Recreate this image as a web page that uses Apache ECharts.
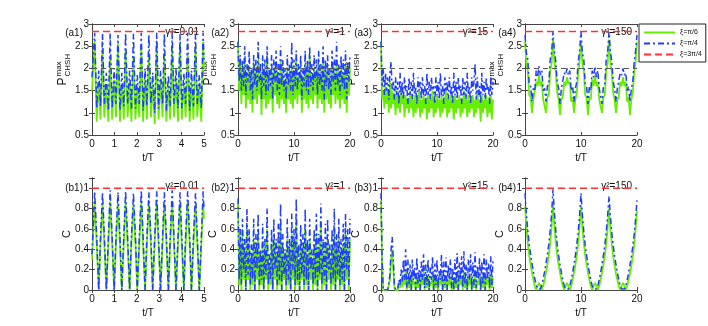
<!DOCTYPE html>
<html>
<head>
<meta charset="utf-8">
<script src="https://cdn.jsdelivr.net/npm/echarts@6/dist/echarts.min.js"></script>
</head>
<body style="margin:0;background:#fff">
<div id="container" style="width:708px;height:326px"></div>
<script>
// legend / labels
var legendNames = ['ξ=π/6', 'ξ=π/4', 'ξ=3π/4'];
var panelTags = ['(a1)', '(a2)', '(a3)', '(a4)', '(b1)', '(b2)', '(b3)', '(b4)'];
var gammaLabels = ['γ²=0.01', 'γ²=1', 'γ²=15', 'γ²=150'];
var tEnd = [5, 20, 20, 20];
var pBound = [2.83, 2.83];   // xi = 3pi/4 (maximal)
var cBound = [1, 1];
var classical = 2;

// (a1),(b1): sampled at the turning points
var t1 = [0,
  0.12, 0.21, 0.30, 0.38, 0.47, 0.55, 0.64, 0.73, 0.81, 0.90, 0.99, 1.07,
  1.16, 1.25, 1.33, 1.42, 1.50, 1.59, 1.68, 1.76, 1.85, 1.94, 2.02, 2.11,
  2.20, 2.28, 2.37, 2.45, 2.54, 2.63, 2.71, 2.80, 2.89, 2.97, 3.06, 3.15,
  3.23, 3.32, 3.41, 3.49, 3.58, 3.66, 3.75, 3.84, 3.93, 4.01, 4.10, 4.18,
  4.27, 4.36, 4.44, 4.53, 4.62, 4.70, 4.79, 4.88, 4.96, 5.00];
var a1Green = [1.5,
  2.6, 0.8, 1.7, 0.85, 2.45, 0.9, 1.6, 0.8, 2.3, 0.85, 1.75, 0.9,
  2.55, 0.8, 1.65, 0.85, 2.4, 0.9, 1.7, 0.8, 2.25, 0.85, 1.6, 0.9,
  2.5, 0.8, 1.75, 0.85, 2.35, 0.9, 1.65, 0.75, 2.6, 0.85, 1.7, 0.9,
  2.3, 0.8, 1.6, 0.85, 2.45, 0.9, 1.75, 0.8, 2.55, 0.85, 1.65, 0.9,
  2.3, 0.8, 1.7, 0.85, 2.5, 0.9, 1.6, 0.8, 2.6, 2.0];
var a1Blue = [1.8,
  2.8, 1.1, 1.95, 1.15, 2.78, 1.2, 1.9, 1.05, 2.8, 1.1, 2.0, 1.2,
  2.75, 1.05, 1.9, 1.15, 2.8, 1.2, 1.95, 1.1, 2.78, 1.1, 1.85, 1.2,
  2.8, 1.05, 2.0, 1.15, 2.76, 1.2, 1.9, 1.0, 2.8, 1.1, 1.95, 1.2,
  2.78, 1.05, 1.85, 1.15, 2.8, 1.2, 2.0, 1.1, 2.77, 1.1, 1.9, 1.2,
  2.8, 1.05, 1.95, 1.15, 2.78, 1.2, 1.85, 1.1, 2.8, 2.2];
var b1Green = [0.3,
  0.86, 0.45, 0.0, 0.45, 0.85, 0.46, 0.0, 0.44, 0.87, 0.45, 0.0, 0.45,
  0.85, 0.44, 0.0, 0.46, 0.86, 0.45, 0.0, 0.45, 0.84, 0.46, 0.0, 0.44,
  0.87, 0.45, 0.0, 0.45, 0.85, 0.44, 0.0, 0.46, 0.86, 0.45, 0.0, 0.45,
  0.85, 0.46, 0.0, 0.44, 0.87, 0.45, 0.0, 0.45, 0.85, 0.44, 0.0, 0.46,
  0.86, 0.45, 0.0, 0.45, 0.84, 0.46, 0.0, 0.44, 0.86, 0.7];
var b1Blue = [0.35,
  0.97, 0.52, 0.0, 0.52, 0.96, 0.53, 0.0, 0.51, 0.98, 0.52, 0.0, 0.52,
  0.96, 0.51, 0.0, 0.53, 0.97, 0.52, 0.0, 0.52, 0.95, 0.53, 0.0, 0.51,
  0.98, 0.52, 0.0, 0.52, 0.96, 0.51, 0.0, 0.53, 0.97, 0.52, 0.0, 0.52,
  0.96, 0.53, 0.0, 0.51, 0.98, 0.52, 0.0, 0.52, 0.96, 0.51, 0.0, 0.53,
  0.97, 0.52, 0.0, 0.52, 0.95, 0.53, 0.0, 0.51, 0.97, 0.8];

// (a2)-(a4),(b2)-(b4): evenly sampled over 0..20
var a2Green = [2.6, 1.5, 2.1, 1.2, 1.9, 1.4, 2.2, 1.1, 1.8, 1.3, 2.0, 1.2, 1.7, 1.0, 2.1, 1.3, 1.9, 1.2, 2.2, 1.4,
  1.8, 0.95, 2.0, 1.3, 1.9, 1.1, 2.3, 1.2, 1.7, 1.3, 2.0, 1.0, 1.9, 1.4, 2.1, 1.2, 1.8, 1.1, 2.2, 1.3,
  1.9, 1.2, 1.7, 1.0, 2.0, 1.3, 1.8, 1.2, 2.1, 1.1, 1.9, 1.3, 2.2, 1.2, 1.8, 1.4, 2.0, 1.0, 1.7, 1.3,
  2.1, 1.2, 1.9, 1.1, 2.3, 1.3, 1.8, 1.2, 2.0, 1.4, 1.9, 1.1, 2.1, 1.3, 1.8, 1.2, 2.2, 1.0, 1.9, 1.3,
  2.0, 1.2, 1.7, 1.1, 2.1, 1.4, 1.9, 1.2, 2.2, 1.3, 1.8, 1.1, 2.0, 1.3, 1.9, 1.2, 2.1, 1.0, 1.8, 1.4, 2.0];
var a2Blue = [2.6, 1.7, 2.3, 1.5, 2.2, 1.6, 2.5, 1.4, 2.1, 1.7, 2.4, 1.5, 2.0, 1.3, 2.3, 1.6, 2.2, 1.5, 2.6, 1.7,
  2.1, 1.3, 2.3, 1.6, 2.2, 1.4, 2.5, 1.5, 2.0, 1.6, 2.3, 1.3, 2.2, 1.7, 2.4, 1.5, 2.1, 1.4, 2.5, 1.6,
  2.2, 1.5, 2.0, 1.3, 2.3, 1.6, 2.1, 1.5, 2.6, 1.4, 2.2, 1.6, 2.4, 1.5, 2.1, 1.7, 2.3, 1.3, 2.0, 1.6,
  2.4, 1.5, 2.2, 1.4, 2.5, 1.6, 2.1, 1.5, 2.3, 1.7, 2.2, 1.4, 2.4, 1.6, 2.1, 1.5, 2.5, 1.3, 2.2, 1.6,
  2.3, 1.5, 2.0, 1.4, 2.4, 1.7, 2.2, 1.5, 2.6, 1.6, 2.1, 1.4, 2.3, 1.6, 2.2, 1.5, 2.4, 1.3, 2.1, 1.7, 2.3];
var a3Green = [2.6, 1.3, 1.5, 1.1, 1.6, 1.2, 1.5, 1.0, 1.7, 1.1, 1.5, 1.2, 1.4, 0.95, 1.5, 1.1, 1.4, 1.0, 1.5, 1.2,
  1.4, 0.9, 1.4, 1.1, 1.3, 1.0, 1.5, 1.1, 1.3, 0.9, 1.4, 1.0, 1.3, 1.1, 1.5, 0.9, 1.3, 1.0, 1.4, 1.1,
  1.3, 0.85, 1.4, 1.0, 1.3, 1.1, 1.5, 0.9, 1.3, 1.0, 1.4, 1.1, 1.3, 0.9, 1.4, 1.0, 1.3, 1.1, 1.5, 0.9,
  1.3, 1.0, 1.4, 1.1, 1.3, 0.85, 1.4, 1.0, 1.3, 1.1, 1.4, 0.9, 1.3, 1.0, 1.5, 1.1, 1.3, 0.9, 1.4, 1.0,
  1.3, 1.1, 1.4, 0.9, 1.3, 1.0, 1.5, 1.1, 1.3, 0.8, 1.4, 1.0, 1.3, 1.1, 1.4, 0.9, 1.3, 1.0, 1.4, 0.85, 1.3];
var a3Blue = [2.6, 1.6, 2.0, 1.4, 1.9, 1.5, 1.8, 1.3, 1.9, 2.15, 1.5, 1.7, 1.3, 1.8, 1.4, 1.7, 1.2, 1.9, 1.4, 1.7,
  1.3, 1.8, 1.5, 1.6, 1.2, 1.8, 1.4, 1.7, 1.3, 1.9, 1.4, 1.6, 1.2, 1.8, 1.5, 1.7, 1.3, 1.8, 1.4, 1.6,
  1.2, 1.9, 1.4, 1.7, 1.3, 1.8, 1.5, 1.6, 1.2, 1.8, 1.4, 1.7, 1.3, 1.9, 1.4, 1.6, 1.2, 1.8, 1.5, 1.7,
  1.3, 1.8, 1.4, 1.6, 1.2, 1.9, 1.4, 1.7, 1.3, 1.8, 1.5, 1.6, 1.2, 1.8, 1.4, 1.7, 1.3, 1.9, 1.4, 1.6,
  1.2, 1.8, 1.5, 1.7, 2.1, 1.3, 1.8, 1.4, 1.6, 1.2, 1.9, 1.4, 1.7, 1.3, 1.8, 1.5, 1.6, 1.2, 1.8, 1.4, 1.7];
var a4Green = [2.6, 2.1, 1.95, 1.4, 1.35, 1.0, 1.3, 1.3, 1.7, 1.6, 1.85, 1.6, 1.7, 1.3, 1.3, 1.0, 1.35, 1.4, 1.95, 2.1,
  2.65, 2.15, 1.9, 1.45, 1.3, 0.95, 1.3, 1.35, 1.7, 1.6, 1.8, 1.65, 1.7, 1.25, 1.35, 1.0, 1.3, 1.45, 1.9, 2.15,
  2.6, 2.1, 1.95, 1.4, 1.35, 0.95, 1.35, 1.3, 1.75, 1.6, 1.85, 1.6, 1.7, 1.3, 1.3, 1.0, 1.35, 1.4, 1.95, 2.1,
  2.65, 2.15, 1.9, 1.45, 1.3, 1.0, 1.3, 1.35, 1.7, 1.6, 1.8, 1.6, 1.7, 1.25, 1.35, 0.95, 1.3, 1.45, 1.9, 2.15,
  2.6];
var a4Blue = [2.75, 2.35, 2.2, 1.65, 1.6, 1.25, 1.55, 1.5, 1.95, 1.8, 2.05, 1.85, 1.95, 1.5, 1.55, 1.25, 1.6, 1.65, 2.2, 2.35,
  2.82, 2.4, 2.15, 1.7, 1.55, 1.2, 1.55, 1.55, 1.9, 1.85, 2.0, 1.85, 1.95, 1.5, 1.6, 1.25, 1.55, 1.7, 2.15, 2.4,
  2.82, 2.35, 2.2, 1.65, 1.6, 1.2, 1.6, 1.5, 1.95, 1.8, 2.05, 1.8, 1.95, 1.55, 1.55, 1.2, 1.6, 1.65, 2.2, 2.35,
  2.82, 2.4, 2.15, 1.7, 1.55, 1.25, 1.55, 1.55, 1.9, 1.85, 2.0, 1.85, 1.9, 1.5, 1.6, 1.25, 1.55, 1.7, 2.15, 2.4,
  2.75];
var b2Green = [0.85, 0.05, 0.45, 0.0, 0.55, 0.1, 0.35, 0.0, 0.6, 0.1, 0.4, 0.0, 0.3, 0.05, 0.5, 0.0, 0.4, 0.1, 0.55, 0.0,
  0.3, 0.05, 0.45, 0.0, 0.35, 0.1, 0.6, 0.0, 0.25, 0.05, 0.45, 0.0, 0.5, 0.1, 0.35, 0.0, 0.45, 0.05, 0.65, 0.0,
  0.4, 0.1, 0.3, 0.0, 0.5, 0.05, 0.35, 0.0, 0.55, 0.1, 0.45, 0.0, 0.7, 0.05, 0.3, 0.0, 0.45, 0.1, 0.4, 0.0,
  0.6, 0.05, 0.35, 0.0, 0.5, 0.1, 0.3, 0.0, 0.45, 0.05, 0.55, 0.0, 0.4, 0.1, 0.65, 0.0, 0.35, 0.05, 0.45, 0.0,
  0.5, 0.1, 0.3, 0.0, 0.45, 0.05, 0.6, 0.0, 0.4, 0.1, 0.5, 0.0, 0.35, 0.05, 0.45, 0.0, 0.55, 0.1, 0.4, 0.0, 0.5];
var b2Blue = [0.9, 0.1, 0.6, 0.05, 0.7, 0.2, 0.5, 0.0, 0.8, 0.15, 0.6, 0.05, 0.45, 0.1, 0.7, 0.0, 0.55, 0.2, 0.75, 0.05,
  0.4, 0.1, 0.65, 0.0, 0.5, 0.15, 0.8, 0.05, 0.35, 0.1, 0.6, 0.0, 0.7, 0.2, 0.5, 0.05, 0.65, 0.1, 0.85, 0.0,
  0.55, 0.15, 0.4, 0.05, 0.7, 0.1, 0.5, 0.0, 0.75, 0.2, 0.6, 0.05, 0.9, 0.1, 0.45, 0.0, 0.65, 0.15, 0.55, 0.05,
  0.8, 0.1, 0.5, 0.0, 0.7, 0.2, 0.4, 0.05, 0.6, 0.1, 0.75, 0.0, 0.55, 0.15, 0.85, 0.05, 0.5, 0.1, 0.65, 0.0,
  0.7, 0.2, 0.45, 0.05, 0.6, 0.1, 0.8, 0.0, 0.55, 0.15, 0.7, 0.05, 0.5, 0.1, 0.65, 0.0, 0.75, 0.2, 0.6, 0.05, 0.7];
var b3Green = [0.88, 0.25, 0.0, 0.0, 0.0, 0.0, 0.0, 0.0, 0.1, 0.3, 0.4, 0.2, 0.02, 0.0, 0.0, 0.0, 0.05, 0.02, 0.1, 0.03,
  0.15, 0.05, 0.2, 0.0, 0.12, 0.02, 0.1, 0.0, 0.15, 0.05, 0.08, 0.0, 0.14, 0.02, 0.1, 0.0, 0.12, 0.05, 0.18, 0.0,
  0.1, 0.02, 0.14, 0.0, 0.08, 0.05, 0.15, 0.0, 0.1, 0.02, 0.12, 0.0, 0.08, 0.05, 0.16, 0.0, 0.11, 0.02, 0.14, 0.0,
  0.1, 0.05, 0.13, 0.0, 0.09, 0.0, 0.12, 0.02, 0.17, 0.0, 0.1, 0.05, 0.14, 0.0, 0.18, 0.02, 0.1, 0.0, 0.13, 0.05,
  0.15, 0.0, 0.11, 0.02, 0.16, 0.0, 0.09, 0.05, 0.14, 0.0, 0.12, 0.02, 0.15, 0.0, 0.13, 0.05, 0.1, 0.0, 0.14, 0.02, 0.12];
var b3Blue = [0.95, 0.3, 0.0, 0.0, 0.0, 0.0, 0.0, 0.0, 0.15, 0.4, 0.52, 0.3, 0.05, 0.0, 0.0, 0.02, 0.1, 0.05, 0.2, 0.08,
  0.3, 0.1, 0.4, 0.02, 0.3, 0.05, 0.25, 0.0, 0.3, 0.1, 0.22, 0.0, 0.32, 0.05, 0.2, 0.0, 0.28, 0.1, 0.35, 0.02,
  0.25, 0.05, 0.3, 0.0, 0.22, 0.1, 0.33, 0.0, 0.26, 0.05, 0.3, 0.02, 0.2, 0.1, 0.35, 0.0, 0.28, 0.05, 0.32, 0.0,
  0.25, 0.1, 0.3, 0.02, 0.22, 0.0, 0.3, 0.05, 0.36, 0.0, 0.27, 0.1, 0.33, 0.02, 0.38, 0.05, 0.25, 0.0, 0.3, 0.1,
  0.35, 0.0, 0.27, 0.05, 0.37, 0.02, 0.24, 0.1, 0.32, 0.0, 0.28, 0.05, 0.35, 0.0, 0.3, 0.1, 0.26, 0.02, 0.33, 0.05, 0.3];
var b4Green = [0.82, 0.62, 0.46, 0.34, 0.25, 0.17, 0.1, 0.04, 0.0, 0.04, 0.07, 0.04, 0.0, 0.04, 0.1, 0.17, 0.25, 0.34, 0.46, 0.62,
  0.84, 0.63, 0.46, 0.34, 0.25, 0.17, 0.1, 0.04, 0.0, 0.04, 0.07, 0.04, 0.0, 0.04, 0.1, 0.17, 0.25, 0.34, 0.46, 0.62,
  0.83, 0.62, 0.46, 0.34, 0.25, 0.17, 0.1, 0.04, 0.0, 0.04, 0.07, 0.04, 0.0, 0.04, 0.1, 0.17, 0.25, 0.34, 0.45, 0.61,
  0.8, 0.6, 0.45, 0.33, 0.24, 0.16, 0.1, 0.04, 0.0, 0.04, 0.07, 0.04, 0.0, 0.04, 0.1, 0.16, 0.24, 0.33, 0.44, 0.6,
  0.78];
var b4Blue = [0.95, 0.75, 0.58, 0.45, 0.35, 0.26, 0.18, 0.11, 0.05, 0.01, 0.0, 0.01, 0.05, 0.11, 0.18, 0.26, 0.35, 0.45, 0.58, 0.75,
  0.99, 0.76, 0.58, 0.45, 0.34, 0.25, 0.17, 0.1, 0.04, 0.01, 0.0, 0.01, 0.04, 0.1, 0.17, 0.25, 0.34, 0.45, 0.57, 0.74,
  0.95, 0.74, 0.57, 0.44, 0.34, 0.25, 0.17, 0.1, 0.04, 0.01, 0.0, 0.01, 0.04, 0.1, 0.17, 0.25, 0.34, 0.44, 0.56, 0.73,
  0.92, 0.72, 0.56, 0.44, 0.33, 0.25, 0.17, 0.1, 0.04, 0.01, 0.0, 0.01, 0.04, 0.1, 0.17, 0.25, 0.33, 0.43, 0.55, 0.7,
  0.88];

function withTimes(ts, vs) {
    return vs.map(function (v, i) { return [ts[i], v]; });
}
function evenTimes(vs, tMax) {
    return vs.map(function (v, i) { return [i * tMax / (vs.length - 1), v]; });
}

var greens = [withTimes(t1, a1Green), evenTimes(a2Green, 20), evenTimes(a3Green, 20), evenTimes(a4Green, 20),
              withTimes(t1, b1Green), evenTimes(b2Green, 20), evenTimes(b3Green, 20), evenTimes(b4Green, 20)];
var blues = [withTimes(t1, a1Blue), evenTimes(a2Blue, 20), evenTimes(a3Blue, 20), evenTimes(a4Blue, 20),
             withTimes(t1, b1Blue), evenTimes(b2Blue, 20), evenTimes(b3Blue, 20), evenTimes(b4Blue, 20)];

var FONT = '"Liberation Sans", Arial, sans-serif';
var GREEN = '#66ee00', BLUE = '#1f3dff', RED = '#ff3030', FRAME = '#444';
var colLeft = [92, 238, 381, 525];
var colWidth = 112;
var rowTop = [24, 178];
var rowHeight = [111, 112];

var dom = document.getElementById('container');
var myChart = echarts.init(dom);

var grids = [], xAxes = [], yAxes = [], series = [], graphics = [];
for (var g = 0; g < 8; g++) {
    var row = g < 4 ? 0 : 1, col = g % 4;
    var tMax = tEnd[col];
    var isP = row === 0;
    var gx = colLeft[col], gy = rowTop[row];
    grids.push({left: gx, top: gy, width: colWidth, height: rowHeight[row]});
    var tickStyle = {inside: true, length: 3, lineStyle: {color: FRAME}};
    var lineStyle = {show: true, lineStyle: {color: FRAME, width: 1}};
    xAxes.push({
        type: 'value', gridIndex: g, min: 0, max: tMax, interval: tMax === 5 ? 1 : 10,
        axisLine: lineStyle, axisTick: tickStyle, splitLine: {show: false},
        axisLabel: {color: '#111', fontSize: 10, fontFamily: FONT, margin: 4},
        name: 't/T', nameLocation: 'middle', nameGap: 18,
        nameTextStyle: {color: '#111', fontSize: 10, fontFamily: FONT}
    });
    xAxes.push({
        type: 'value', gridIndex: g, position: 'top', min: 0, max: tMax, interval: tMax === 5 ? 1 : 10,
        axisLine: lineStyle, axisTick: tickStyle, splitLine: {show: false}, axisLabel: {show: false}
    });
    var yBase = isP ? {min: 0.5, max: 3, interval: 0.5} : {min: 0, max: 1.1, interval: 0.2};
    yAxes.push(Object.assign({
        type: 'value', gridIndex: g,
        axisLine: lineStyle, axisTick: tickStyle, splitLine: {show: false},
        axisLabel: {color: '#111', fontSize: 10, fontFamily: FONT, margin: 3,
            formatter: function (v) { return v > 1.05 && v < 1.15 ? '' : String(+v.toFixed(2)); }}
    }, yBase));
    yAxes.push(Object.assign({
        type: 'value', gridIndex: g, position: 'right',
        axisLine: lineStyle, axisTick: tickStyle, splitLine: {show: false}, axisLabel: {show: false}
    }, yBase));

    series.push({
        name: legendNames[0], type: 'line', xAxisIndex: 2 * g, yAxisIndex: 2 * g,
        data: greens[g], showSymbol: false, symbol: 'none',
        lineStyle: {color: GREEN, width: 1.8}, itemStyle: {color: GREEN},
        markLine: isP ? {
            silent: true, symbol: 'none', label: {show: false},
            lineStyle: {color: '#555', type: [5, 4], width: 1},
            data: [{yAxis: classical}]
        } : undefined
    });
    series.push({
        name: legendNames[1], type: 'line', xAxisIndex: 2 * g, yAxisIndex: 2 * g,
        data: blues[g], showSymbol: false, symbol: 'none',
        lineStyle: {color: BLUE, width: 1.5, type: [6, 3, 2, 3]}, itemStyle: {color: BLUE}
    });
    var bound = isP ? pBound : cBound;
    series.push({
        name: legendNames[2], type: 'line', xAxisIndex: 2 * g, yAxisIndex: 2 * g,
        data: [[0, bound[0]], [tMax, bound[1]]], showSymbol: false, symbol: 'none',
        lineStyle: {color: RED, width: 1.5, type: [7, 4]}, itemStyle: {color: RED}
    });

    // panel tag
    graphics.push({
        type: 'text', x: gx - 9, y: isP ? gy + 9 : gy + 10,
        style: {text: panelTags[g], fontSize: 10, fontFamily: FONT, fill: '#111',
            textAlign: 'right', textVerticalAlign: 'middle'}
    });
    // gamma label
    graphics.push({
        type: 'text', x: gx + colWidth - 5, y: gy + 8,
        style: {text: gammaLabels[col], fontSize: 10, fontFamily: FONT, fill: '#111',
            textAlign: 'right', textVerticalAlign: 'middle'}
    });
    // y axis title
    var cy = gy + rowHeight[row] / 2;
    if (isP) {
        graphics.push({
            type: 'group', x: gx - 29, y: cy, rotation: Math.PI / 2,
            children: [
                {type: 'text', x: -6, y: 0, style: {text: 'P', fontSize: 12, fontFamily: FONT, fill: '#111', textVerticalAlign: 'middle'}},
                {type: 'text', x: 3, y: -4, style: {text: 'max', fontSize: 8, fontFamily: FONT, fill: '#111', textVerticalAlign: 'middle'}},
                {type: 'text', x: 3, y: 5, style: {text: 'CHSH', fontSize: 8, fontFamily: FONT, fill: '#111', textVerticalAlign: 'middle'}}
            ]
        });
    } else {
        graphics.push({
            type: 'text', x: gx - 25, y: cy, rotation: Math.PI / 2,
            style: {text: 'C', fontSize: 11, fontFamily: FONT, fill: '#111', textAlign: 'center', textVerticalAlign: 'middle'}
        });
    }
}

var option = {
    animation: false,
    backgroundColor: '#fff',
    legend: {
        data: legendNames, orient: 'vertical', left: 639, top: 24,
        itemWidth: 31, itemHeight: 8, itemGap: 4,
        borderColor: '#222', borderWidth: 1, borderRadius: 0, padding: [5, 4, 4, 4],
        backgroundColor: '#fff',
        itemStyle: {opacity: 0},
        textStyle: {fontSize: 7, color: '#111', fontFamily: FONT}
    },
    grid: grids, xAxis: xAxes, yAxis: yAxes, series: series, graphic: graphics
};
myChart.setOption(option);
</script>
</body>
</html>
